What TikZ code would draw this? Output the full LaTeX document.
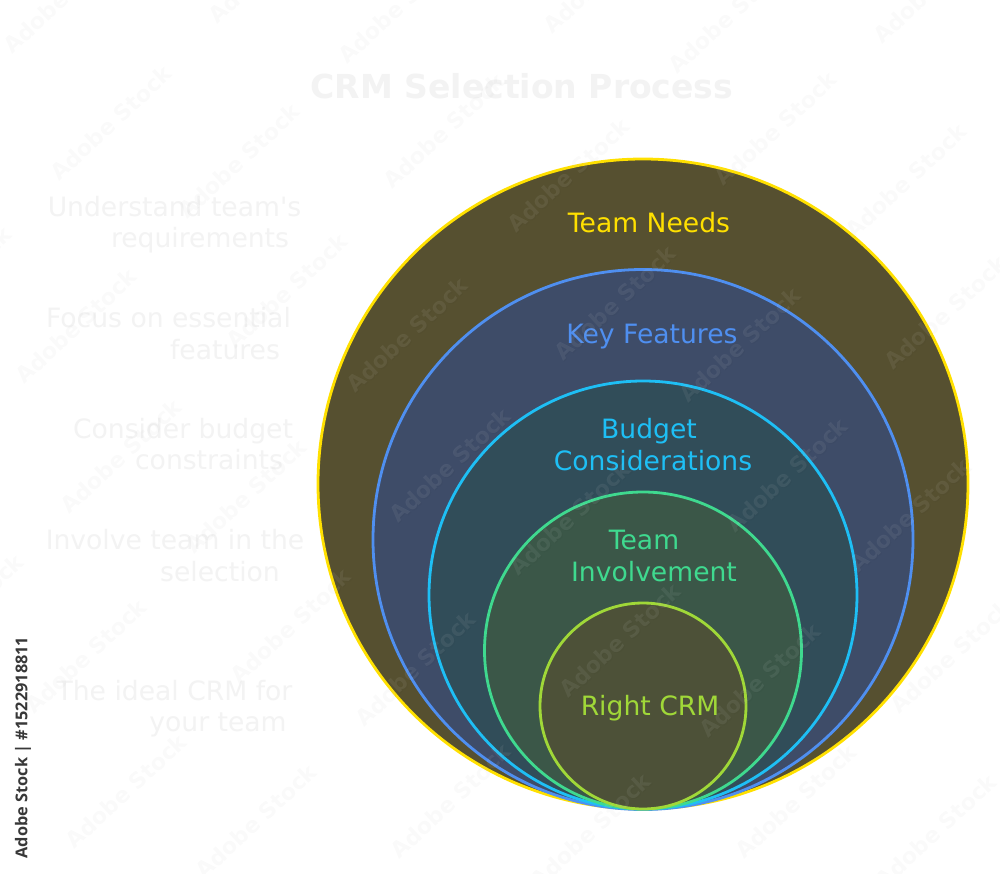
\documentclass[tikz,border=0pt]{standalone}
\usepackage{fontspec}
\setmainfont{DejaVu Sans}
\newfontfamily\stampfont{Open Sans}
\newfontfamily\plainfont{DejaVu Sans}
\definecolor{faint}{HTML}{F3F3F3}
\definecolor{cYa}{HTML}{FFE000}\definecolor{fYa}{HTML}{565030}
\definecolor{cBl}{HTML}{4F8FF0}\definecolor{fBl}{HTML}{3E4C68}
\definecolor{cCy}{HTML}{1EBFF5}\definecolor{fCy}{HTML}{314D59}
\definecolor{cGr}{HTML}{3FD98F}\definecolor{fGr}{HTML}{3B5748}
\definecolor{cLi}{HTML}{A0D838}\definecolor{fLi}{HTML}{4D5138}
\tikzset{
  ring/.style={circle,inner sep=0pt,line width=2.8pt,minimum size=#1},
  lab/.style={font=\fontsize{26.6}{30}\selectfont,inner sep=0pt,anchor=base},
  side/.style={lab,text=faint},
  ttl/.style={font=\fontsize{33}{40}\selectfont\bfseries,text=faint,inner sep=0pt,anchor=base},
  wmS/.style={font=\fontsize{22}{26}\selectfont\bfseries,rotate=43,inner sep=0pt,text=black,text opacity=.02},
  wm/.style={font=\fontsize{22}{26}\selectfont\bfseries,rotate=43,inner sep=0pt,text=white,text opacity=.07},
  stamp/.style={font=\stampfont\fontsize{16.3}{20}\selectfont\bfseries,rotate=90,inner sep=0pt,text=black!78}
}
\begin{document}
\begin{tikzpicture}[x=1pt,y=-1pt]
\useasboundingbox (0,0) rectangle (1000,874);
\fill[white] (0,0) rectangle (1000,874);
\node[ring=650pt,draw=cYa,fill=fYa] (c1) at (643,484) {};
\node[ring=540pt,draw=cBl,fill=fBl] (c2) at (643,539.5) {};
\node[ring=428pt,draw=cCy,fill=fCy] (c3) at (643,595) {};
\node[ring=317pt,draw=cGr,fill=fGr] (c4) at (643,650.5) {};
\node[ring=206pt,draw=cLi,fill=fLi] (c5) at (643,706) {};
\node[lab,text=cYa] (t1) at (649,232.5) {Team Needs};
\node[lab,text=cBl] (t2) at (652,343) {Key Features};
\node[lab,text=cCy] (t3a) at (649,438.5) {Budget};
\node[lab,text=cCy] (t3b) at (653,470) {Considerations};
\node[lab,text=cGr] (t4a) at (644,549.5) {Team};
\node[lab,text=cGr] (t4b) at (654,581) {Involvement};
\node[lab,text=cLi] (t5) at (650,715) {Right CRM};
\node[ttl] (title) at (522,99) {CRM Selection Process};
\node[side] (s1a) at (174.5,216.5) {Understand team{\plainfont\symbol{39}}s};
\node[side] (s1b) at (200,248) {requirements};
\node[side] (s2a) at (168.5,327) {Focus on essential};
\node[side] (s2b) at (225,359) {features};
\node[side] (s3a) at (183,438) {Consider budget};
\node[side] (s3b) at (209,469.5) {constraints};
\node[side] (s4a) at (175,549) {Involve team in the};
\node[side] (s4b) at (220,581) {selection};
\node[side] (s5a) at (174.5,700) {The ideal CRM for};
\node[side] (s5b) at (218,731.5) {your team};
\foreach \px/\py [count=\i] in {63/-5,268/-35,398/5,603/-25,728/15,933/-15,
  110/122,238/160,443/130,568/175,775/128,905/180,-50/283,
  75/325,286/290,407/335,615/303,740/345,945/312,
  120/455,245/495,450/465,570/518,787/475,910/515,-38/610,
  85/655,290/625,415/668,620/640,760/680,950/655,
  125/790,255/820,450/800,590/830,795/800,935/830}{
  \node[wmS] (ws\i) at (\px+1,\py+1) {Adobe Stock};
  \node[wm] (w\i) at (\px,\py) {Adobe Stock};
}
\node[stamp] (id) at (23,747.5) {Adobe Stock | \#1522918811};
\end{tikzpicture}
\end{document}
